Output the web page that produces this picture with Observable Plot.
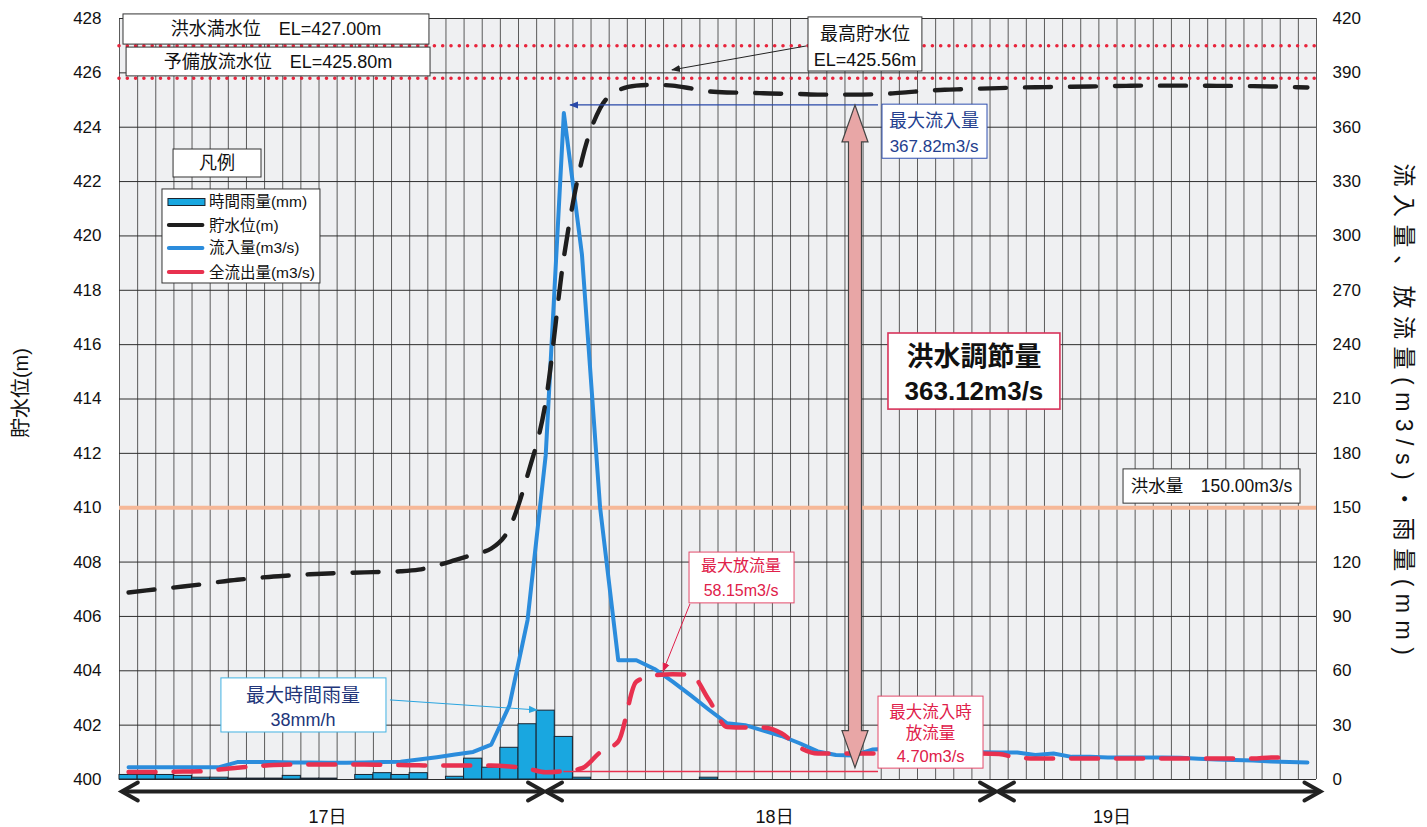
<!DOCTYPE html>
<html><head><meta charset="utf-8">
<script src="https://cdn.jsdelivr.net/npm/d3@7"></script>
<script src="https://cdn.jsdelivr.net/npm/@observablehq/plot@0.6"></script>
<style>
html,body{margin:0;padding:0;background:#fff;}
#chart{width:1427px;height:827px;}
</style></head><body><div id="chart"></div>
<script>
// ---- data (hourly, 66 hours from 17日) ----
const rain = [2.5,2.5,2.5,2,1,1,0.5,0.5,0.5,2,0.5,0.5,0,2.5,3.5,2.5,3.5,0,1.5,11.5,6.5,17.5,30.5,38,23.5,1,
  0,0,0,0,0,0,1,0,0,0,0,0,0,0,0,0,0,0,0,0,0,0,0,0,0,0,0,0,0,0,0,0,0,0,0,0,0,0,0,0];
const level = [406.88,406.96,407.03,407.10,407.18,407.27,407.35,407.41,407.47,407.51,407.55,407.58,407.60,407.62,407.64,407.66,
  407.72,407.87,408.07,408.28,408.50,409.25,411.20,413.90,419.20,422.80,424.70,425.35,425.53,425.56,425.53,425.43,425.32,
  425.28,425.27,425.25,425.23,425.22,425.20,425.20,425.20,425.21,425.24,425.29,425.34,425.38,425.40,425.42,425.44,425.46,
  425.47,425.48,425.49,425.50,425.51,425.52,425.53,425.53,425.53,425.53,425.52,425.52,425.51,425.50,425.48,425.46];
const inflow = [6.8,6.8,6.8,6.8,6.8,6.8,9.6,9.6,9.6,9.4,9.4,9.2,9.2,9.4,9.6,9.8,11,12.3,13.8,15.2,19.3,40.9,88,179,367.82,289.6,
  150,65.8,65.8,61,54,46.4,38.5,31,30,27,24,20,15.5,13.5,13.3,16.5,17,16.5,16,15.5,15,15,14.9,14.9,13.5,14.3,12.5,12.5,12.2,
  12.2,12.2,12.2,12,11.5,11,10.8,10.5,10,9.7,9.4];
const outflow = [4.1,4.1,4.2,4.4,4.5,5.5,6.5,7.3,8,8.3,8.3,8.3,8.3,8.3,8.1,8,7.8,7.7,7.7,7.7,7.7,7.2,6.0,4.0,4.7,6.2,15,21,54,57.5,
  58.15,57.8,44,29,28.7,28.7,25.5,17.7,14.4,14.4,14.4,14.4,14.4,14.4,14.4,14.4,14.4,14.4,14.1,12,11.6,11.6,11.6,11.6,11.6,
  11.6,11.6,11.6,11.6,11.6,11.6,11.6,11.6,12.2,12.2];
const leftTicks = d3.range(400, 429, 2);
const rightTicks = d3.range(0, 421, 30);
const days = ["17日", "18日", "19日"];
const dayBounds = [0.1, 23.49, 48.41, 66.3];
const dayLabelPos = [11.5, 36.15, 54.75];
const fullLevel = 427.00, reserveLevel = 425.80, floodFlow = 150;

const flowToLevel = q => 400 + q / 15;   // right axis 0–420 ↔ left axis 400–428
const rows = d3.range(66).map(i => ({i, rain: rain[i], level: level[i], inflow: inflow[i], outflow: outflow[i]}));
const FONT = '"Liberation Sans","Noto Sans CJK JP",sans-serif';

const plot = Plot.plot({
  width: 1427, height: 827,
  marginLeft: 119, marginRight: 111, marginTop: 18, marginBottom: 48,
  x: {domain: [0, 66], axis: null},
  y: {domain: [400, 428], axis: null},
  style: {fontFamily: FONT, background: "#fff", overflow: "visible"},
  marks: [
    Plot.frame({fill: "#eff0f2", stroke: null}),
    Plot.ruleX(d3.range(0, 67), {stroke: "#4a4a4a", strokeWidth: 0.9}),
    Plot.ruleY(leftTicks, {stroke: "#2e2e2e", strokeWidth: 1}),
    Plot.text(leftTicks, {x: 0, y: d => d, text: d => `${d}`, textAnchor: "end", dx: -18, fontSize: 17, fill: "#111"}),
    Plot.text(rightTicks, {x: 66, y: d => flowToLevel(d), text: d => `${d}`, textAnchor: "start", dx: 16, fontSize: 17, fill: "#111"}),
    Plot.ruleY([flowToLevel(floodFlow)], {stroke: "#f6b898", strokeWidth: 4}),
    Plot.ruleY([fullLevel, reserveLevel], {stroke: "#e8243c", strokeWidth: 3.6, strokeDasharray: "0 8.3", strokeLinecap: "round"}),
    Plot.rect(rows.filter(d => d.rain > 0), {x1: d => d.i, x2: d => d.i + 1, y1: d => 400, y2: d => flowToLevel(d.rain),
      fill: "#19a7e0", stroke: "#1b2430", strokeWidth: 1}),
    Plot.line(rows, {x: d => d.i + 0.5, y: d => flowToLevel(d.inflow), stroke: "#2b8cdc", strokeWidth: 4, strokeLinejoin: "round"}),
    Plot.line(rows.filter(d => d.outflow != null), {x: d => d.i + 0.5, y: d => flowToLevel(d.outflow), stroke: "#e8314f",
      strokeWidth: 4.5, strokeDasharray: "27 18", strokeLinecap: "round", curve: "monotone-x"}),
    Plot.line(rows, {x: d => d.i + 0.5, y: "level", stroke: "#1e1e1e", strokeWidth: 4.4, strokeDasharray: "26 19",
      strokeLinecap: "round", curve: "monotone-x"})
  ]
});

const svgEl = plot.tagName.toLowerCase() === "svg" ? plot : plot.querySelector("svg");
document.getElementById("chart").appendChild(plot);
const svg = d3.select(svgEl);
const sx = plot.scale("x"), sy = plot.scale("y");
const X = v => sx.apply(v), Y = v => sy.apply(v);
const g = svg.append("g").attr("font-family", FONT);

const defs = svg.append("defs");
function marker(id, color) {
  defs.append("marker").attr("id", id).attr("viewBox", "0 0 10 10").attr("refX", 9).attr("refY", 5)
    .attr("markerWidth", 9).attr("markerHeight", 9).attr("markerUnits", "userSpaceOnUse").attr("orient", "auto")
    .append("path").attr("d", "M0,1 L10,5 L0,9 Z").attr("fill", color);
}
marker("mk", "#222"); marker("mb", "#2848a8"); marker("mr", "#e0204a"); marker("mc", "#2aa5e0");

function box(x1, x2, y1, y2, stroke, sw = 1) {
  g.append("rect").attr("x", X(x1)).attr("y", Y(y2)).attr("width", X(x2) - X(x1)).attr("height", Y(y1) - Y(y2))
    .attr("fill", "#fff").attr("stroke", stroke).attr("stroke-width", sw);
}
function label(x, y, t, size, fill = "#111", weight = "normal", anchor = "middle") {
  g.append("text").attr("x", X(x)).attr("y", Y(y)).attr("text-anchor", anchor).attr("dominant-baseline", "central")
    .attr("font-size", size).attr("fill", fill).attr("font-weight", weight).text(t);
}
function arrow(x1, y1, x2, y2, color, mk, w = 1) {
  g.append("line").attr("x1", X(x1)).attr("y1", Y(y1)).attr("x2", X(x2)).attr("y2", Y(y2))
    .attr("stroke", color).attr("stroke-width", w).attr("marker-end", `url(#${mk})`);
}

// level boxes
box(0.39, 17.15, 425.87, 426.93, "#333");
label(8.77, 426.38, "予備放流水位　EL=425.80m", 18);
box(0.22, 17.09, 427.04, 428.15, "#333");
label(8.66, 427.58, "洪水満水位　EL=427.00m", 18);

// max level
arrow(37.88, 426.97, 30.49, 426.09, "#222", "mk", 1);
box(37.99, 44.27, 426.05, 428.04, "#333");
label(41.13, 427.41, "最高貯水位", 18);
label(41.13, 426.45, "EL=425.56m", 18);

// max inflow
arrow(41.85, 424.80, 24.87, 424.80, "#2848a8", "mb", 1.3);
box(42.07, 47.86, 422.84, 424.83, "#3050b0");
label(44.94, 424.21, "最大流入量", 18, "#24408e");
label(44.94, 423.29, "367.82m3/s", 17, "#24408e");

// pink double arrow (flood control amount)
{
  const cx = X(40.58), top = Y(424.80), bot = Y(400.42), hw = 13, sw = 6.5, hl = 37;
  const pts = [[cx, top], [cx + hw, top + hl], [cx + sw, top + hl], [cx + sw, bot - hl], [cx + hw, bot - hl], [cx, bot],
    [cx - hw, bot - hl], [cx - sw, bot - hl], [cx - sw, top + hl], [cx - hw, top + hl]];
  g.append("path").attr("d", "M" + pts.map(p => p.join(",")).join("L") + "Z")
    .attr("fill", "#e8a6a6").attr("stroke", "#444").attr("stroke-width", 1.2);
}
box(42.40, 51.88, 413.61, 416.41, "#d8335a", 1.6);
label(47.14, 415.52, "洪水調節量", 27, "#111", "bold");
label(47.14, 414.28, "363.12m3/s", 26, "#111", "bold");

// flood flow
box(55.36, 65.12, 410.15, 411.41, "#333");
label(60.24, 410.78, "洪水量　150.00m3/s", 17.5);

// legend
box(2.98, 7.83, 422.15, 423.18, "#333");
label(5.40, 422.66, "凡例", 18);
box(2.37, 11.08, 418.25, 421.71, "#333");
{
  const ly = [421.23, 420.38, 419.54, 418.65];
  const names = ["時間雨量(mm)", "貯水位(m)", "流入量(m3/s)", "全流出量(m3/s)"];
  g.append("rect").attr("x", X(2.70)).attr("y", Y(ly[0]) - 3.5).attr("width", X(4.74) - X(2.70)).attr("height", 7)
    .attr("fill", "#19a7e0").attr("stroke", "#1b2430").attr("stroke-width", 1);
  [["#1e1e1e", 1], ["#2b8cdc", 2], ["#e8314f", 3]].forEach(([c, k]) => {
    g.append("line").attr("x1", X(2.75)).attr("x2", X(4.6)).attr("y1", Y(ly[k])).attr("y2", Y(ly[k]))
      .attr("stroke", c).attr("stroke-width", 4).attr("stroke-linecap", "round");
  });
  names.forEach((n, k) => label(4.96, ly[k], n, 15.5, "#111", "normal", "start"));
}

// max outflow
arrow(31.48, 406.44, 30.0, 403.97, "#e0204a", "mr", 1);
box(31.43, 37.22, 406.48, 408.35, "#e34a6a");
label(34.30, 407.84, "最大放流量", 16, "#e0204a");
label(34.30, 406.95, "58.15m3/s", 16, "#e0204a");

// max rain
arrow(14.94, 402.91, 23.05, 402.54, "#2aa5e0", "mc", 1);
box(5.62, 14.72, 401.73, 403.72, "#43b3e3");
label(10.15, 403.09, "最大時間雨量", 19, "#22367a");
label(10.15, 402.17, "38mm/h", 18, "#22367a");

// outflow at max inflow
g.append("line").attr("x1", X(24.5)).attr("x2", X(41.85)).attr("y1", Y(flowToLevel(4.7)) + 1).attr("y2", Y(flowToLevel(4.7)) + 1)
  .attr("stroke", "#e8314f").attr("stroke-width", 1.3);
box(41.85, 47.64, 400.40, 403.05, "#e34a6a");
label(44.75, 402.47, "最大流入時", 16.5, "#e0204a");
label(44.75, 401.70, "放流量", 16.5, "#e0204a");
label(44.75, 400.85, "4.70m3/s", 16.5, "#e0204a");

// day arrows
{
  const ay = Y(400) + 12.5;
  for (let k = 0; k < 3; k++) {
    const a = X(dayBounds[k]), b = X(dayBounds[k + 1]);
    const p = g.append("g").attr("stroke", "#222").attr("stroke-width", 4).attr("fill", "none").attr("stroke-linecap", "round");
    p.append("line").attr("x1", a + 2).attr("x2", b - 2).attr("y1", ay).attr("y2", ay);
    p.append("path").attr("d", `M${a + 17},${ay - 9}L${a + 1},${ay}L${a + 17},${ay + 9}`);
    p.append("path").attr("d", `M${b - 17},${ay - 9}L${b - 1},${ay}L${b - 17},${ay + 9}`);
    g.append("text").attr("x", X(dayLabelPos[k])).attr("y", ay + 25).attr("text-anchor", "middle")
      .attr("dominant-baseline", "central").attr("font-size", 18).attr("fill", "#111").text(days[k]);
  }
}

// axis titles
g.append("text").attr("transform", `translate(21,${Y(414.2)}) rotate(-90)`).attr("text-anchor", "middle")
  .attr("dominant-baseline", "central").attr("font-size", 20).attr("fill", "#111").text("貯水位(m)");
g.append("text").attr("transform", `translate(1404,${Y(413.47)}) rotate(90)`).attr("text-anchor", "middle")
  .attr("dominant-baseline", "central").attr("font-size", 23).attr("letter-spacing", 7.5).attr("fill", "#111")
  .text("流入量、放流量(m3/s)・雨量(mm)");
</script></body></html>
